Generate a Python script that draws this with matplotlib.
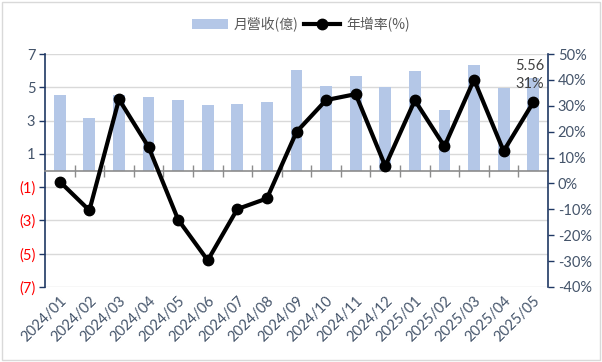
import matplotlib
matplotlib.use("Agg")
import matplotlib.pyplot as plt
from matplotlib.patches import Rectangle, Patch
from matplotlib.lines import Line2D
import numpy as np

months = ["2024/01", "2024/02", "2024/03", "2024/04", "2024/05", "2024/06",
          "2024/07", "2024/08", "2024/09", "2024/10", "2024/11", "2024/12",
          "2025/01", "2025/02", "2025/03", "2025/04", "2025/05"]
revenue = [4.52, 3.14, 4.52, 4.40, 4.22, 3.92, 3.98, 4.10, 6.02, 5.06,
           5.66, 5.00, 5.96, 3.62, 6.32, 4.94, 5.56]
yoy = [0.7, -10.4, 32.5, 14.1, -14.0, -29.7, -9.9, -5.8, 19.9, 32.2,
       34.5, 6.7, 32.1, 14.3, 40.1, 12.5, 31.3]
left_ticks = [7, 5, 3, 1, -1, -3, -5, -7]
left_labels = ["7", "5", "3", "1", "(1)", "(3)", "(5)", "(7)"]
right_ticks = [50, 40, 30, 20, 10, 0, -10, -20, -30, -40]
right_labels = ["50%", "40%", "30%", "20%", "10%", "0%", "-10%", "-20%", "-30%", "-40%"]

FONT = ["Lato", "Noto Sans CJK TC", "DejaVu Sans"]
plt.rcParams['font.family'] = FONT

navy = "#1F3864"
txt = "#44546A"
bar_c = "#B4C7E7"

fig = plt.figure(figsize=(6.02, 3.62), dpi=100)
fig.patches.append(Rectangle((0.004, 0.006), 0.992, 0.988, transform=fig.transFigure,
                             fill=False, edgecolor="#D9D9D9", linewidth=1.0))

rect = [45/602, 1-287/362, 503/602, 233/362]
ax = fig.add_axes(rect)
x = np.arange(len(months))
ax.bar(x, revenue, width=0.4, color=bar_c, zorder=2)
ax.set_xlim(-0.5, len(months) - 0.5)
ax.set_ylim(-7, 7)
ax.set_yticks(left_ticks)
ax.set_yticklabels(left_labels, fontsize=10.5)
for lab, v in zip(ax.get_yticklabels(), left_ticks):
    lab.set_color("#FF0000" if v < 0 else txt)
ax.tick_params(axis='y', direction='out', length=4, width=1, color=navy, pad=3)
ax.grid(axis='y', color="#D9D9D9", linewidth=1, zorder=0)
ax.set_axisbelow(True)
for s in ['top', 'right', 'bottom']:
    ax.spines[s].set_visible(False)
ax.spines['left'].set_color(navy)
ax.spines['left'].set_linewidth(1.2)

ax.set_xticks(x)
ax.set_xticklabels(months, rotation=45, ha='right', va='top', rotation_mode='anchor',
                   fontsize=10.5, color=txt)
ax.tick_params(axis='x', length=0, pad=5)

# zero-level category axis line with crossing tick marks (overlay axes)
ax0 = fig.add_axes(rect, frameon=True, facecolor='none')
ax0.set_xlim(ax.get_xlim())
ax0.set_ylim(ax.get_ylim())
for s in ['top', 'right', 'left']:
    ax0.spines[s].set_visible(False)
ax0.spines['bottom'].set_position(('data', 0))
ax0.spines['bottom'].set_color("#8C8C8C")
ax0.spines['bottom'].set_linewidth(1.2)
ax0.set_yticks([])
ax0.set_xticks(np.arange(1, len(months)) - 0.5)
ax0.set_xticklabels([])
ax0.tick_params(axis='x', direction='inout', length=8, width=1, color="#8C8C8C")

ax2 = ax.twinx()
ax2.plot(x, yoy, color="black", linewidth=3, marker='o', markersize=7.5, zorder=3)
ax2.set_ylim(-40, 50)
ax2.set_yticks(right_ticks)
ax2.set_yticklabels(right_labels, fontsize=10.5, color=txt)
ax2.tick_params(axis='y', direction='out', length=4, width=1, color=navy, pad=3)
for s in ['top', 'left', 'bottom']:
    ax2.spines[s].set_visible(False)
ax2.spines['right'].set_color(navy)
ax2.spines['right'].set_linewidth(1.2)
ax2.set_zorder(ax0.get_zorder() + 1)

# labels on the last point
ax.annotate(f"{revenue[-1]:.2f}", xy=(x[-1], revenue[-1]), xytext=(8, 8.5),
            textcoords='offset points', ha='right', va='center', fontsize=10.5, color="#404040")
ax2.annotate(f"{round(yoy[-1])}%", xy=(x[-1], yoy[-1]), xytext=(8, 13),
             textcoords='offset points', ha='right', va='center', fontsize=10.5, color="#404040")

handles = [Patch(facecolor=bar_c, edgecolor='none'),
           Line2D([0], [0], color='black', linewidth=3, marker='o', markersize=7.5)]
fig.legend(handles, ["月營收(億)", "年增率(%)"], loc='center', bbox_to_anchor=(0.50, 0.933),
           ncol=2, frameon=False, labelcolor="#595959",
           handlelength=2.6, handletextpad=0.4, columnspacing=0.4,
           prop={'family': ["Noto Sans CJK TC", "DejaVu Sans"], 'size': 10})

fig.savefig("out.png", dpi=100)
